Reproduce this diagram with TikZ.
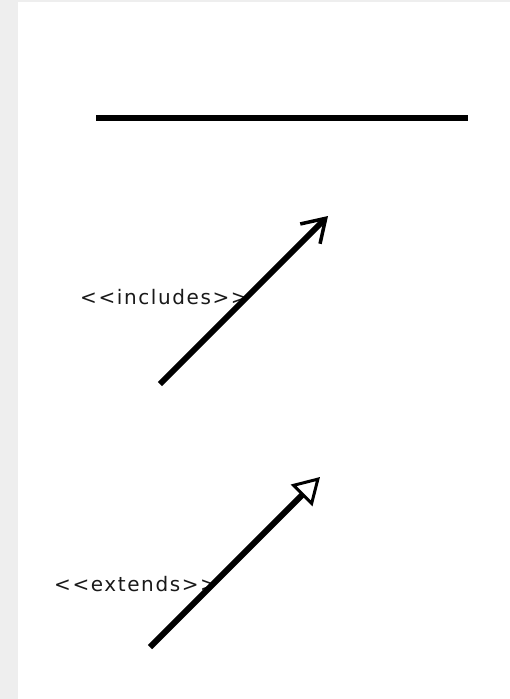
\documentclass[tikz,border=0pt]{standalone}
\usepackage{fontspec}
\setmainfont{DejaVu Sans}
\usepackage{xcolor}
\usetikzlibrary{arrows.meta,positioning,calc}
\definecolor{stripcolor}{RGB}{238, 238, 238}
\definecolor{textcolor}{RGB}{25, 25, 25}

\begin{document}
\begin{tikzpicture}[x=1pt,y=-1pt,every node/.style={font=\fontsize{20}{23}\selectfont\addfontfeature{LetterSpace=8},text=textcolor,inner sep=0pt,anchor=base west}]
\useasboundingbox (0,0) rectangle (510,699);
\fill[stripcolor] (0,0) rectangle (18,699); \fill[stripcolor] (0,0) rectangle (510,2);
\coordinate (assocL) at (96,118); \coordinate (assocR) at (468,118);
\coordinate (incFrom) at (160,384); \coordinate (incTo) at (328,216);
\coordinate (extFrom) at (150,647); \coordinate (extTo) at (320,477);
\node (inclabel) at (80,304) {{<}{<}includes{>}{>}};
\node (extlabel) at (54,591) {{<}{<}extends{>}{>}};
\draw[line width=6pt](assocL)--(assocR);
\draw[line width=6pt,-{Straight Barb[length=22pt,width=28pt,line width=3.5pt]}](incFrom)--(incTo);
\draw[line width=6pt,-{Triangle[open,fill=white,length=26pt,width=30pt,line width=3pt]}](extFrom)--(extTo);
\end{tikzpicture}
\end{document}
